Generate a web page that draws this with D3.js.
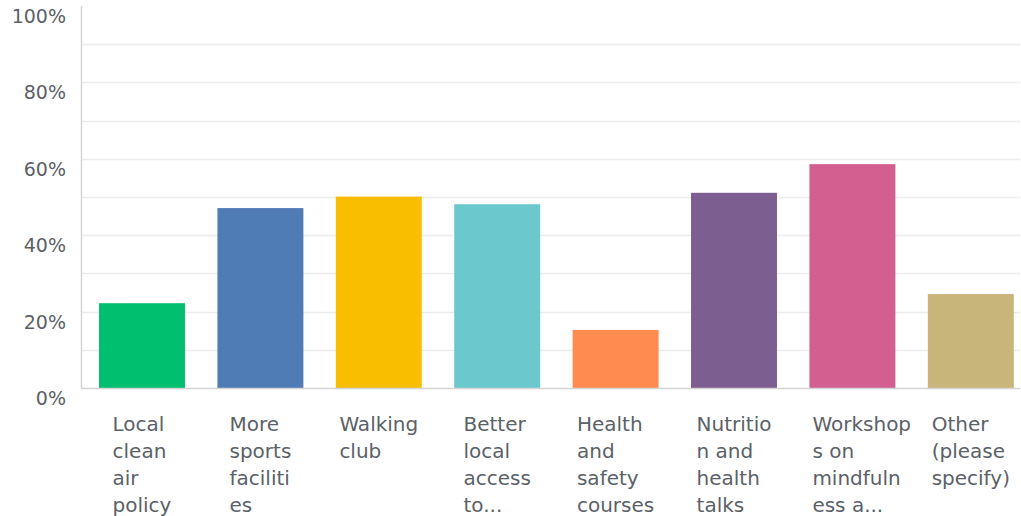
<!DOCTYPE html>
<html>
<head>
<meta charset="utf-8">
<script src="https://cdn.jsdelivr.net/npm/d3@7/dist/d3.min.js"></script>
<style>
  html, body { margin: 0; padding: 0; background: #ffffff; }
  svg { display: block; }
  text { font-family: "DejaVu Sans", sans-serif; }
</style>
</head>
<body>
<svg id="chart" width="1021" height="516"></svg>
<script>
const categories = [
  "Local clean air policy",
  "More sports facilities",
  "Walking club",
  "Better local access to...",
  "Health and safety courses",
  "Nutrition and health talks",
  "Workshops on mindfulness a...",
  "Other (please specify)"
];
const labelLines = [
  ["Local", "clean", "air", "policy"],
  ["More", "sports", "faciliti", "es"],
  ["Walking", "club"],
  ["Better", "local", "access", "to..."],
  ["Health", "and", "safety", "courses"],
  ["Nutritio", "n and", "health", "talks"],
  ["Workshop", "s on", "mindfuln", "ess a..."],
  ["Other", "(please", "specify)"]
];
const values = [22.2, 47.1, 50.1, 48.1, 15.2, 51.1, 58.6, 24.6];
const colors = ["#00BF6F", "#507CB6", "#F9BE00", "#6BC8CD", "#FF8B4F", "#7D5E90", "#D25F90", "#C7B579"];
const tickValues = [0, 20, 40, 60, 80, 100];
const gridValues = [10, 20, 30, 40, 50, 60, 70, 80, 90];

const svg = d3.select("#chart");
const plotLeft = 81, plotRight = 1020, plotTop = 6, plotBottom = 388;

const y = d3.scaleLinear().domain([0, 100]).range([plotBottom, plotTop]);
const x = d3.scaleBand().domain(categories).range([82.8, 1030])
  .paddingInner(0.274).paddingOuter(0.137);

// gridlines
svg.append("g").selectAll("line").data(gridValues).join("line")
  .attr("x1", plotLeft).attr("x2", plotRight)
  .attr("y1", d => Math.round(y(d)) + 0.5).attr("y2", d => Math.round(y(d)) + 0.5)
  .attr("stroke", "#ececec").attr("stroke-width", 1.5);

// bars
svg.append("g").selectAll("rect").data(categories).join("rect")
  .attr("x", d => x(d))
  .attr("width", x.bandwidth())
  .attr("y", (d, i) => y(values[i]))
  .attr("height", (d, i) => plotBottom - y(values[i]))
  .attr("fill", (d, i) => colors[i]);

// axes lines
svg.append("line").attr("x1", plotLeft + 0.5).attr("x2", plotLeft + 0.5).attr("y1", plotTop).attr("y2", plotBottom)
  .attr("stroke", "#d4d4d4").attr("stroke-width", 1.5);
svg.append("line").attr("x1", plotLeft).attr("x2", plotRight).attr("y1", plotBottom + 0.5).attr("y2", plotBottom + 0.5)
  .attr("stroke", "#d4d4d4").attr("stroke-width", 1.5);

// y tick labels
svg.append("g").selectAll("text").data(tickValues).join("text")
  .attr("x", 66).attr("y", d => y(d) + 17)
  .attr("text-anchor", "end")
  .attr("font-size", 19)
  .attr("fill", "#5b6168")
  .text(d => d + "%");

// category labels
const lab = svg.append("g").selectAll("text").data(categories).join("text")
  .attr("font-size", 20)
  .attr("fill", "#5b6168");
lab.each(function(d, i) {
  const t = d3.select(this);
  labelLines[i].forEach((ln, j) => {
    t.append("tspan").attr("dy", j === 0 ? 0 : 27).text(ln);
  });
  let maxW = 0;
  t.selectAll("tspan").each(function() { maxW = Math.max(maxW, this.getComputedTextLength()); });
  const cx = x(d) + x.bandwidth() / 2;
  const lx = cx - Math.min(maxW, 80) / 2;
  t.attr("y", 431);
  t.selectAll("tspan").attr("x", lx);
});
</script>
</body>
</html>
